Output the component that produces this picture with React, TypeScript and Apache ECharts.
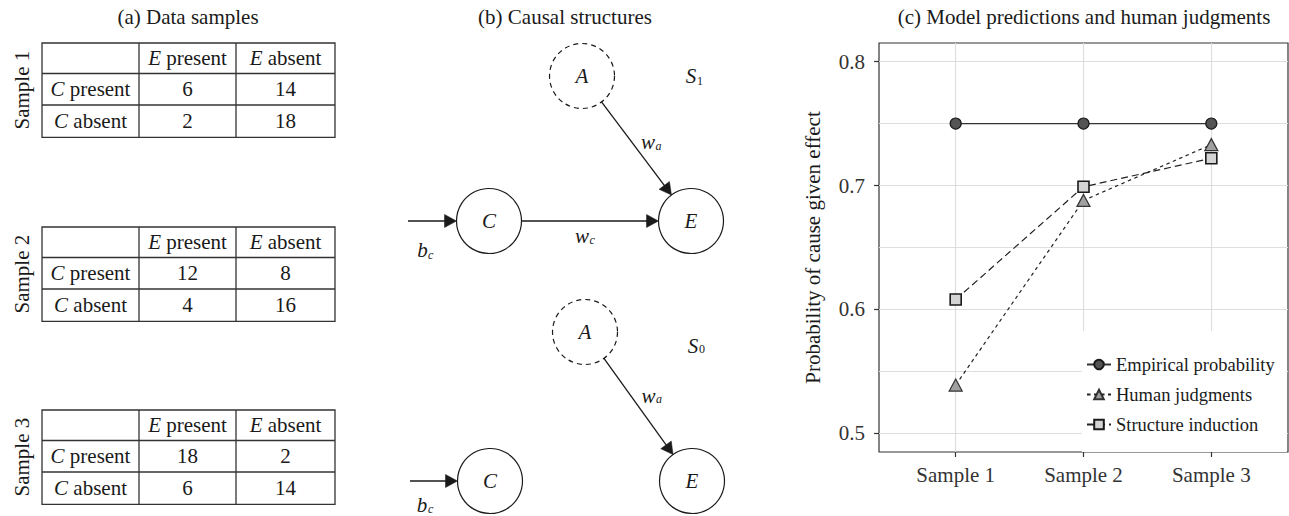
import React, { useEffect, useRef } from 'react';
import * as echarts from 'echarts';

const FONT = "'Liberation Serif', 'Times New Roman', serif";
const INK = '#1a1a1a';

// ---------- Panel titles ----------
const panelTitles = ['(a) Data samples', '(b) Causal structures', '(c) Model predictions and human judgments'];

// ---------- Panel (a): data samples ----------
const sampleNames = ['Sample 1', 'Sample 2', 'Sample 3'];
const effectHeaders = ['present', 'absent']; // preceded by italic E
const causeHeaders = ['present', 'absent']; // preceded by italic C
const cPresentCounts = [[6, 14], [12, 8], [18, 2]];
const cAbsentCounts = [[2, 18], [4, 16], [6, 14]];

// ---------- Panel (b): causal structures ----------
const structureNames = [['S', '1'], ['S', '0']];
const structureEdges = [
  [['bc', 'C', 'b', 'c'], ['C', 'E', 'w', 'c'], ['A', 'E', 'w', 'a']],
  [['bc', 'C', 'b', 'c'], ['A', 'E', 'w', 'a']],
];

// ---------- Panel (c): model predictions ----------
const categories = ['Sample 1', 'Sample 2', 'Sample 3'];
const empiricalProbability = [0.75, 0.75, 0.75];
const humanJudgments = [0.539, 0.688, 0.733];
const structureInduction = [0.608, 0.699, 0.722];
const yTickValues = [0.5, 0.6, 0.7, 0.8];
const xTickValues = [1, 2, 3];
const yAxisTitle = 'Probability of cause given effect';
const seriesNames = ['Empirical probability', 'Human judgments', 'Structure induction'];

// ---------- layout (positions only) ----------
const titlePos = [[188, 17], [565, 17], [1084, 17]];
const tableTops = [43, 227, 410];
const colX = [42, 139, 236, 335];
const rowOff = [0, 30.5, 62, 94.3];
const NODE_R = 32.5;
const diagramLayouts = [
  {
    nodes: { A: [582, 76], C: [489, 221], E: [691, 221], bc: [408, 221] },
    name: [691, 75.5, 697, 81],
    labels: { 'C-E': [582, 236, 589.5, 240], 'A-E': [648, 142, 655.5, 146], 'bc-C': [422.5, 250, 428, 255] },
  },
  {
    nodes: { A: [585, 332], C: [490, 481], E: [692, 481], bc: [410, 481] },
    name: [693, 345.5, 699, 349],
    labels: { 'A-E': [648.5, 396, 656, 398.5], 'bc-C': [422, 504.5, 428, 509] },
  },
];

function textEl(x: number, y: number, text: string, opts: any = {}) {
  return {
    type: 'text',
    x,
    y,
    rotation: opts.rotation || 0,
    z: 50,
    style: {
      text,
      fontFamily: FONT,
      fontSize: opts.fontSize || 21,
      fontStyle: opts.italic ? 'italic' : 'normal',
      fill: opts.fill || INK,
      align: opts.align || 'center',
      verticalAlign: opts.verticalAlign || 'middle',
      rich: {
        i: { fontStyle: 'italic', fontFamily: FONT, fontSize: opts.fontSize || 21, fill: opts.fill || INK },
        n: { fontStyle: 'normal', fontFamily: FONT, fontSize: opts.fontSize || 21, fill: opts.fill || INK },
      },
    },
  };
}

function lineEl(x1: number, y1: number, x2: number, y2: number, w = 1.3, color = '#333') {
  return { type: 'line', z: 50, shape: { x1, y1, x2, y2 }, style: { stroke: color, lineWidth: w } };
}

function arrowEls(x1: number, y1: number, x2: number, y2: number) {
  const head = 12;
  const hw = 6.5;
  const dx = x2 - x1;
  const dy = y2 - y1;
  const len = Math.hypot(dx, dy);
  const ux = dx / len;
  const uy = dy / len;
  const bx = x2 - ux * head;
  const by = y2 - uy * head;
  return [
    lineEl(x1, y1, bx + ux * 1, by + uy * 1, 1.3, INK),
    {
      type: 'polygon',
      z: 50,
      shape: { points: [[x2, y2], [bx - uy * hw, by + ux * hw], [bx + uy * hw, by - ux * hw]] },
      style: { fill: INK, stroke: INK, lineWidth: 0.5 },
    },
  ];
}

function buildGraphics() {
  const els: any[] = [];
  panelTitles.forEach((t, i) => els.push(textEl(titlePos[i][0], titlePos[i][1], t)));

  // tables
  sampleNames.forEach((name, i) => {
    const top = tableTops[i];
    const h = rowOff[3];
    els.push({
      type: 'rect',
      z: 50,
      shape: { x: colX[0], y: top, width: colX[3] - colX[0], height: h },
      style: { fill: 'none', stroke: '#333', lineWidth: 1.3 },
    });
    els.push(lineEl(colX[1], top, colX[1], top + h));
    els.push(lineEl(colX[2], top, colX[2], top + h));
    els.push(lineEl(colX[0], top + rowOff[1], colX[3], top + rowOff[1]));
    els.push(lineEl(colX[0], top + rowOff[2], colX[3], top + rowOff[2]));
    const cx = [(colX[0] + colX[1]) / 2, (colX[1] + colX[2]) / 2, (colX[2] + colX[3]) / 2];
    const cy = [0, 1, 2].map((r) => top + (rowOff[r] + rowOff[r + 1]) / 2);
    effectHeaders.forEach((hd, j) => els.push(textEl(cx[j + 1], cy[0], `{i|E}{n| ${hd}}`)));
    causeHeaders.forEach((hd, r) => els.push(textEl(cx[0], cy[r + 1], `{i|C}{n| ${hd}}`)));
    const rows = [cPresentCounts[i], cAbsentCounts[i]];
    rows.forEach((vals, r) => vals.forEach((v, j) => els.push(textEl(cx[j + 1], cy[r + 1], String(v)))));
    els.push(textEl(22, top + h / 2, name, { rotation: Math.PI / 2 }));
  });

  // causal diagrams
  diagramLayouts.forEach((lay, s) => {
    const nodes: any = lay.nodes;
    ['A', 'C', 'E'].forEach((k) => {
      const [x, y] = nodes[k];
      els.push({
        type: 'circle',
        z: 50,
        shape: { cx: x, cy: y, r: NODE_R },
        style: { fill: 'none', stroke: INK, lineWidth: 1.2, lineDash: k === 'A' ? [5, 4] : null },
      });
      els.push(textEl(x, y, k, { italic: true }));
    });
    structureEdges[s].forEach(([from, to, main, sub]) => {
      const [x1, y1] = nodes[from];
      const [x2, y2] = nodes[to];
      const dx = x2 - x1;
      const dy = y2 - y1;
      const len = Math.hypot(dx, dy);
      const ux = dx / len;
      const uy = dy / len;
      const r1 = from === 'bc' ? 0 : NODE_R;
      els.push(...arrowEls(x1 + ux * r1, y1 + uy * r1, x2 - ux * NODE_R, y2 - uy * NODE_R));
      const lp = (lay.labels as any)[`${from}-${to}`];
      if (lp) {
        els.push(textEl(lp[0], lp[1], main, { italic: true }));
        els.push(textEl(lp[2], lp[3], sub, { italic: true, fontSize: 12, align: 'left' }));
      }
    });
    const [nm, sb] = structureNames[s];
    els.push(textEl(lay.name[0], lay.name[1], nm, { italic: true }));
    els.push(textEl(lay.name[2], lay.name[3], sb, { fontSize: 12, align: 'left' }));
  });
  return els;
}

const GRID_LINE = '#dedede';

function buildOption() {
  const toPoints = (vals: number[]) => vals.map((v, i) => [i + 1, v]);
  const hiddenParts = { axisLine: { show: false }, axisTick: { show: false }, axisLabel: { show: false } };
  return {
    animation: false,
    textStyle: { fontFamily: FONT },
    grid: {
      left: 879,
      top: 43,
      width: 409,
      height: 409,
      show: true,
      borderColor: '#333',
      borderWidth: 1.2,
      backgroundColor: 'transparent',
    },
    xAxis: [
      {
        type: 'value',
        min: 0.4,
        max: 3.6,
        splitNumber: 3,
        axisLine: { show: false },
        axisTick: { show: true, length: 5, customValues: xTickValues, lineStyle: { color: '#333', width: 1.2 } },
        axisLabel: {
          customValues: xTickValues,
          formatter: (v: number) => (Math.abs(v - Math.round(v)) < 1e-6 ? categories[Math.round(v) - 1] || '' : ''),
          fontFamily: FONT,
          fontSize: 21,
          color: '#333',
          margin: 12,
        },
        splitLine: { show: false },
      },
      {
        type: 'value',
        min: 0.4,
        max: 3.6,
        splitNumber: 3,
        position: 'bottom',
        ...hiddenParts,
        splitLine: { show: true, showMinLine: false, showMaxLine: false, lineStyle: { color: GRID_LINE, width: 1.2 } },
      },
    ],
    yAxis: [
      {
        type: 'value',
        min: 0.485,
        max: 0.815,
        position: 'left',
        name: yAxisTitle,
        nameLocation: 'middle',
        nameGap: 56,
        nameTextStyle: { fontFamily: FONT, fontSize: 21, color: INK },
        axisLine: { show: false },
        axisTick: { show: true, length: 5, customValues: yTickValues, lineStyle: { color: '#333', width: 1.2 } },
        axisLabel: {
          customValues: yTickValues,
          formatter: (v: number) => (Math.abs(v * 10 - Math.round(v * 10)) < 1e-6 ? v.toFixed(1) : ''),
          fontFamily: FONT,
          fontSize: 21,
          color: '#333',
          margin: 14,
        },
        splitLine: { show: false },
      },
      {
        type: 'value',
        min: 0.485,
        max: 0.815,
        position: 'left',
        ...hiddenParts,
        splitLine: { show: true, showMinLine: false, showMaxLine: false, lineStyle: { color: GRID_LINE, width: 1.1 } },
      },
    ],
    legend: {
      orient: 'vertical',
      left: 1082,
      top: 331,
      padding: [24, 12, 18, 4],
      itemGap: 11,
      itemWidth: 24,
      itemHeight: 12,
      backgroundColor: '#fff',
      textStyle: { fontFamily: FONT, fontSize: 18.5, color: INK },
      data: seriesNames,
    },
    series: [
      {
        name: seriesNames[0],
        type: 'line',
        data: toPoints(empiricalProbability),
        symbol: 'circle',
        symbolSize: 11,
        itemStyle: { color: '#545454', borderColor: INK, borderWidth: 1.2 },
        lineStyle: { color: '#333', width: 1.3, type: 'solid' },
        z: 4,
      },
      {
        name: seriesNames[1],
        type: 'line',
        data: toPoints(humanJudgments),
        symbol: 'triangle',
        symbolSize: [13, 12],
        itemStyle: { color: '#a0a0a0', borderColor: '#333', borderWidth: 1.2 },
        lineStyle: { color: '#222', width: 1.2, type: [3.5, 3.5] },
        z: 3,
      },
      {
        name: seriesNames[2],
        type: 'line',
        data: toPoints(structureInduction),
        symbol: 'rect',
        symbolSize: 11,
        itemStyle: { color: '#d4d4d4', borderColor: INK, borderWidth: 1.6 },
        lineStyle: { color: '#222', width: 1.2, type: [7, 4] },
        z: 3,
      },
    ],
    graphic: { elements: buildGraphics() },
  };
}

export default function App() {
  const ref = useRef<HTMLDivElement>(null);
  useEffect(() => {
    if (!ref.current) return;
    const chart = echarts.init(ref.current, undefined, { renderer: 'svg' });
    chart.setOption(buildOption() as any);
    return () => chart.dispose();
  }, []);
  return (
    <div
      ref={ref}
      style={{ position: 'fixed', left: 0, top: 0, width: 1289, height: 516, background: '#fff' }}
    />
  );
}
